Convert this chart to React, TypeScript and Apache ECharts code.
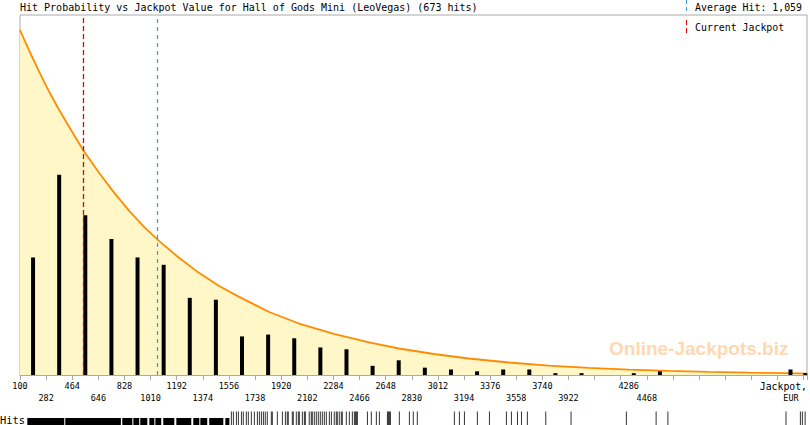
import React, { useEffect, useRef } from "react";
import * as echarts from "echarts";

// ---- data ----
const binStart = 100;
const binWidth = 182;
const xMax = 5584;
const currentJackpot = 542;
const averageHit = 1059;

// hits per 182-EUR bin, starting at 100
const hitsPerBin = [64, 109, 87, 74, 64, 60, 42, 41, 21, 22, 20, 15, 14, 5, 8, 4, 3, 2, 3, 3, 1, 1, 0, 1, 2, 0, 0, 0, 0, 3, 1];

// tick labels (index = tick number); "" = not drawn
const xTickLabels = ["100", "282", "464", "646", "828", "1010", "1192", "1374", "1556", "1738", "1920", "2102", "2284", "2466", "2648", "2830", "3012", "3194", "3376", "3558", "3740", "3922", "", "4286", "4468"];

// probability curve: jackpot value, relative probability (1 = top of plot)
const curveX = [100, 165, 234, 304, 373, 443, 544, 652, 757, 861, 966, 1070, 1210, 1349, 1488, 1627, 1836, 2044, 2288, 2532, 2740, 2984, 3227, 3506, 3784, 4063, 4341, 4620, 4898, 5176, 5455, 5584];
const curveY = [0.958, 0.9, 0.842, 0.786, 0.736, 0.689, 0.622, 0.561, 0.506, 0.456, 0.411, 0.372, 0.325, 0.283, 0.247, 0.217, 0.175, 0.143, 0.114, 0.0903, 0.0736, 0.0583, 0.0458, 0.0347, 0.0258, 0.02, 0.015, 0.0117, 0.0089, 0.0067, 0.005, 0.0039];

// rug of individual hits: dense solid ranges and single hits
const rugRanges = [[151, 408], [415, 802], [812, 882], [889, 930], [937, 986], [1000, 1035], [1042, 1083], [1097, 1174], [1188, 1292], [1306, 1348], [1355, 1403], [1417, 1515], [1529, 1557]];
const rugHits = [1571, 1585, 1606, 1620, 1641, 1654, 1675, 1689, 1710, 1731, 1752, 1766, 1780, 1794, 1807, 1821, 1849, 1856, 1891, 1926, 1947, 1960, 1967, 1995, 2002, 2023, 2037, 2044, 2065, 2079, 2086, 2113, 2127, 2134, 2148, 2162, 2176, 2190, 2204, 2218, 2232, 2253, 2267, 2287, 2301, 2308, 2322, 2336, 2343, 2371, 2392, 2413, 2427, 2434, 2441, 2448, 2518, 2545, 2580, 2601, 2657, 2664, 2671, 2678, 2740, 2810, 2837, 2865, 3123, 3158, 3193, 3283, 3367, 3485, 3520, 3562, 3590, 3631, 3759, 3935, 4320, 4527, 4609, 5431, 5531, 5545, 5564];

const titleText = "Hit Probability vs Jackpot Value for Hall of Gods Mini (LeoVegas) (673 hits)";

const MONO = '"DejaVu Sans Mono", "Liberation Mono", monospace';

const u = (v: number) => (v - binStart) / binWidth;

export default function App() {
  const ref = useRef<HTMLDivElement>(null);
  useEffect(() => {
    if (!ref.current) return;
    const chart = echarts.init(ref.current, null, { renderer: "svg" });
    const uMax = u(xMax);

    const barData = hitsPerBin.map((h, i) => {
      const s = binStart + i * binWidth;
      const center = Math.min(s + binWidth / 2, (s + xMax) / 2);
      return [u(center), h];
    });

    const option: any = {
      animation: false,
      grid: [
        { left: 20, right: 2, top: 15, bottom: 50, show: true, borderColor: "#aaa", borderWidth: 1 },
        { left: 20, right: 2, top: 418, height: 20 },
      ],
      xAxis: [
        {
          type: "value",
          gridIndex: 0,
          min: 0,
          max: uMax,
          interval: 1,
          splitLine: { show: false },
          axisLine: { show: true, lineStyle: { color: "#aaa" } },
          axisTick: { show: true, length: 5, lineStyle: { color: "#aaa" } },
          axisLabel: {
            show: true,
            margin: 5,
            color: "#000",
            fontFamily: MONO,
            fontSize: 8.5,
            lineHeight: 12,
            showMinLabel: true,
            showMaxLabel: true,
            formatter: (value: number) => {
              const i = Math.round(value);
              if (Math.abs(value - i) > 1e-6) return "";
              const t = xTickLabels[i] || "";
              if (!t) return "";
              if (i === 23) return "{s|" + t + "}";
              const lower = (i % 2 === 1 && i < 22) || i === 24;
              return lower ? "\n" + t : t;
            },
            rich: {
              s: { fontFamily: MONO, fontSize: 8.5, lineHeight: 12, color: "#000", padding: [0, 0, 0, 16] },
            },
          },
        },
        { type: "value", gridIndex: 1, min: 0, max: uMax, show: false },
      ],
      yAxis: [
        { type: "value", gridIndex: 0, min: 0, max: 196, show: false, splitLine: { show: false } },
        { type: "value", gridIndex: 0, min: 0, max: 1, show: false, splitLine: { show: false } },
        { type: "value", gridIndex: 1, min: 0, max: 1, show: false },
      ],
      series: [
        {
          type: "line",
          xAxisIndex: 0,
          yAxisIndex: 1,
          data: curveX.map((x, i) => [u(x), curveY[i]]),
          smooth: false,
          showSymbol: false,
          symbol: "none",
          lineStyle: { color: "#ff8c00", width: 1.8 },
          areaStyle: { color: "#fff7c8", opacity: 1 },
          z: 1,
          silent: true,
        },
        {
          type: "bar",
          xAxisIndex: 0,
          yAxisIndex: 0,
          data: barData,
          barWidth: 4,
          itemStyle: { color: "#000" },
          z: 3,
          silent: true,
          markLine: {
            silent: true,
            symbol: ["none", "none"],
            label: { show: false },
            animation: false,
            data: [
              { xAxis: u(currentJackpot), lineStyle: { color: "#e00000", type: [5, 3], width: 1.3 } },
              { xAxis: u(averageHit), lineStyle: { color: "#3b99d9", type: [4, 4], width: 1.2 } },
            ],
          },
        },
        {
          type: "scatter",
          xAxisIndex: 1,
          yAxisIndex: 2,
          data: rugHits.map((v) => [u(v), 0.5]),
          symbol: "rect",
          symbolSize: [1, 20],
          itemStyle: { color: "#000" },
          silent: true,
          markArea: {
            silent: true,
            itemStyle: { color: "#000", opacity: 1 },
            data: rugRanges.map((r) => [{ xAxis: u(r[0]) }, { xAxis: u(r[1]) }]),
          },
        },
      ],
      graphic: [
        { type: "text", x: 20, y: 7, style: { text: titleText, font: `10px ${MONO}`, fill: "#000", textVerticalAlign: "middle" } },
        { type: "line", shape: { x1: 686.5, y1: 0, x2: 686.5, y2: 11 }, style: { stroke: "#3b99d9", lineWidth: 1, lineDash: [4, 3] } },
        { type: "text", x: 695, y: 7, style: { text: "Average Hit: 1,059", font: `9.9px ${MONO}`, fill: "#000", textVerticalAlign: "middle" } },
        { type: "line", shape: { x1: 686.5, y1: 20, x2: 686.5, y2: 33 }, style: { stroke: "#e00000", lineWidth: 1, lineDash: [5, 3] } },
        { type: "text", x: 695, y: 27, style: { text: "Current Jackpot", font: `9.9px ${MONO}`, fill: "#000", textVerticalAlign: "middle" } },
        { type: "text", x: 609, y: 348, z: 0, style: { text: "Online-Jackpots.biz", font: 'bold 19px "Liberation Sans", Arial, sans-serif', fill: "#ffd8b0", textVerticalAlign: "middle" } },
        { type: "text", x: 807, y: 386, style: { text: "Jackpot,", font: `9.8px ${MONO}`, fill: "#000", textAlign: "right", textVerticalAlign: "middle" } },
        { type: "text", x: 791, y: 398, style: { text: "EUR", font: `8.5px ${MONO}`, fill: "#000", textAlign: "center", textVerticalAlign: "middle" } },
        { type: "text", x: 0, y: 420, style: { text: "Hits", font: `10.4px ${MONO}`, fill: "#000", textVerticalAlign: "middle" } },
      ],
    };
    chart.setOption(option);
    return () => chart.dispose();
  }, []);
  return <div ref={ref} style={{ position: "absolute", left: 0, top: 0, width: 810, height: 425 }} />;
}
